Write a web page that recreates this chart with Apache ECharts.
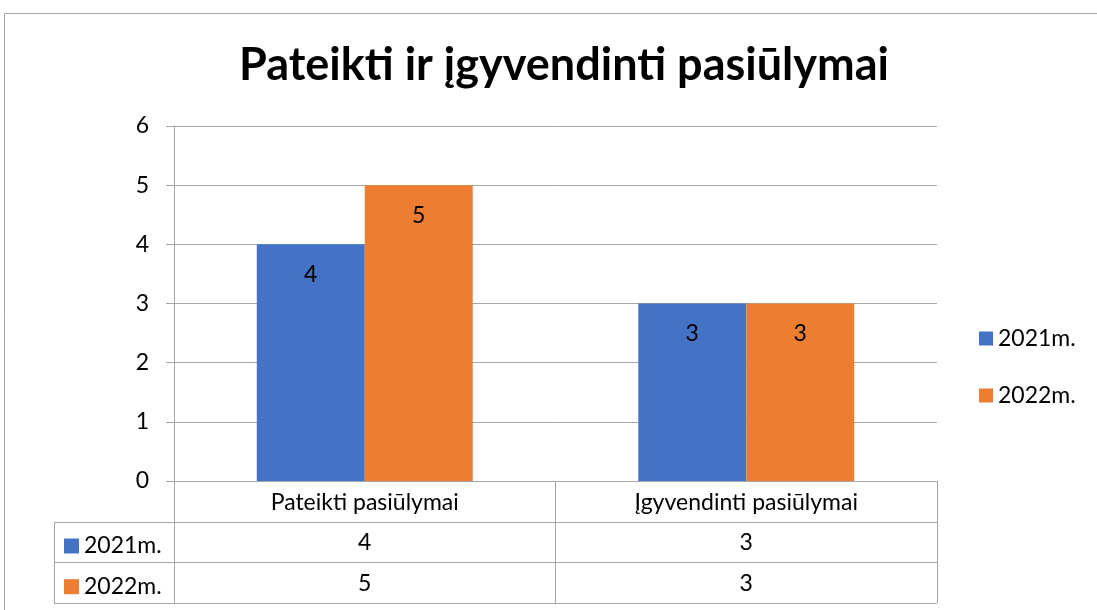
<!DOCTYPE html>
<html><head><meta charset="utf-8">
<script src="https://cdn.jsdelivr.net/npm/echarts@6/dist/echarts.min.js"></script>
<style>html,body{margin:0;padding:0;background:#fff}#c{width:1097px;height:610px}</style>
</head><body><div id="c"></div>
<script>
const title = 'Pateikti ir įgyvendinti pasiūlymai';
const categories = ['Pateikti pasiūlymai', 'Įgyvendinti pasiūlymai'];
const seriesNames = ['2021m.', '2022m.'];
const values2021 = [4, 3];
const values2022 = [5, 3];
const yTicks = [0, 1, 2, 3, 4, 5, 6];
const colors = ['#4472C4', '#ED7D31'];

const FONT = 'Lato, "Noto Sans", sans-serif';
const FS = 23;
const GRAY = '#A6A6A6';
const chart = echarts.init(document.getElementById('c'));
const allValues = [values2021, values2022];
const ROW_H = 40.7;

const tableLegends = seriesNames.map((n, i) => ({
  orient: 'horizontal', left: 64, top: 534.5 + ROW_H * i, padding: 0, itemWidth: 15, itemHeight: 15,
  icon: 'rect', textStyle: { fontFamily: FONT, fontSize: FS, lineHeight: 15, color: '#000' },
  data: [n], selectedMode: false
}));

const option = {
  animation: false,
  color: colors,
  title: {
    text: title, left: 234, top: 38,
    textStyle: { fontFamily: FONT, fontWeight: 'bold', fontSize: 45, color: '#000' }
  },
  grid: { left: 174, right: 160, top: 126, bottom: 129, containLabel: false },
  legend: [
    {
      orient: 'vertical', left: 979, top: 327, padding: 0, itemWidth: 14, itemHeight: 14, itemGap: 34,
      icon: 'rect', textStyle: { fontFamily: FONT, fontSize: FS, lineHeight: 14, color: '#000' },
      data: seriesNames, selectedMode: false
    }
  ].concat(tableLegends),
  xAxis: {
    type: 'category', data: categories,
    axisLine: { show: true, lineStyle: { color: GRAY, width: 1 } },
    axisTick: { show: true, length: 122, interval: 0, lineStyle: { color: GRAY, width: 1 } },
    axisLabel: {
      interval: 0, margin: 1, fontFamily: FONT, fontSize: FS, color: '#000', lineHeight: 40.6,
      formatter: function (v, i) {
        return v + '\n' + allValues.map(a => a[i]).join('\n');
      }
    }
  },
  yAxis: {
    type: 'value', min: yTicks[0], max: yTicks[yTicks.length - 1], interval: 1,
    axisLine: { show: true, lineStyle: { color: GRAY, width: 1 } },
    axisTick: { show: true, length: 8, lineStyle: { color: GRAY, width: 1 } },
    splitLine: { lineStyle: { color: GRAY, width: 1 } },
    axisLabel: { margin: 25, fontFamily: FONT, fontSize: FS, color: '#000' }
  },
  series: seriesNames.map((n, si) => ({
    name: n, type: 'bar', data: allValues[si], barWidth: '28.3%', barGap: '0%',
    label: { show: true, position: 'insideTop', distance: 19, fontFamily: FONT, fontSize: FS, color: '#000' }
  }))
};
chart.setOption(option);

function drawTable() {
  const y0 = chart.convertToPixel({ yAxisIndex: 0 }, 0);
  const xR = chart.convertToPixel({ xAxisIndex: 0 }, categories.length - 1) + 190.75;
  const left = 54;
  const lines = [];
  for (let r = 1; r <= allValues.length; r++) {
    const y = Math.round(y0 + ROW_H * r) + 0.5;
    lines.push({ x1: left, y1: y, x2: xR, y2: y });
  }
  const yb = Math.round(y0 + ROW_H * (allValues.length + 1)) + 0.5;
  lines.push({ x1: left, y1: yb, x2: xR, y2: yb });
  lines.push({ x1: left + 0.5, y1: Math.round(y0 + ROW_H) + 0.5, x2: left + 0.5, y2: yb });
  const graphic = [
    { type: 'rect', shape: { x: 4.5, y: 13.5, width: 1200, height: 700 }, style: { fill: 'none', stroke: GRAY, lineWidth: 1 }, silent: true, z: -10 }
  ].concat(lines.map(s => ({ type: 'line', shape: s, style: { stroke: GRAY, lineWidth: 1 }, silent: true })));
  chart.setOption({ graphic: graphic });
}
drawTable();
</script></body></html>
